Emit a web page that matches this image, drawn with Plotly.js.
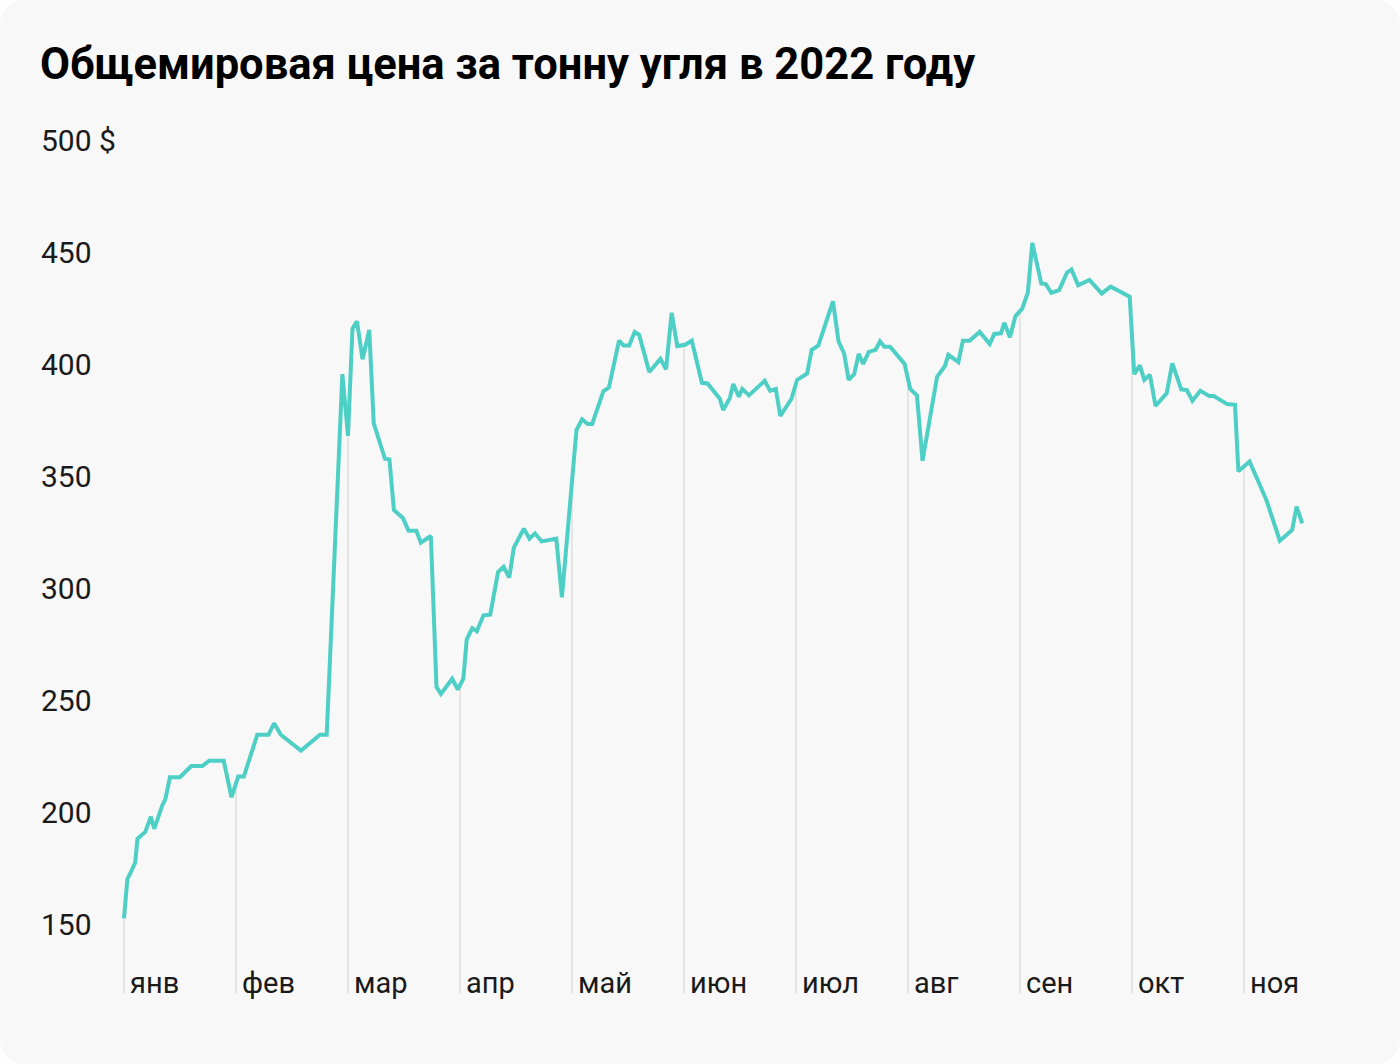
<!DOCTYPE html>
<html>
<head>
<meta charset="utf-8">
<script src="https://cdn.plot.ly/plotly-3.0.1.min.js"></script>
<style>
  html, body { margin: 0; padding: 0; background: #ffffff; }
  #chart { width: 1400px; height: 1064px; background: #f8f8f8; border-radius: 24px; overflow: hidden; }
</style>
</head>
<body>
<div id="chart"></div>
<script>
// позиция по оси x: номер месяца (0 = начало января), значение: $ за тонну
const months = ['янв', 'фев', 'мар', 'апр', 'май', 'июн', 'июл', 'авг', 'сен', 'окт', 'ноя'];

const pos = [
  0.00, 0.03, 0.07, 0.10, 0.12, 0.16, 0.19, 0.24, 0.27, 0.34, 0.37, 0.41, 0.50, 0.60, 0.70, 0.76, 0.89, 0.96,
  1.02, 1.07, 1.19, 1.29, 1.34, 1.40, 1.58, 1.75, 1.81, 1.95,
  2.00, 2.04, 2.08, 2.13, 2.19, 2.23, 2.33, 2.37, 2.41, 2.49, 2.54, 2.61, 2.65, 2.74, 2.79, 2.83, 2.93, 2.98,
  3.03, 3.06, 3.11, 3.15, 3.21, 3.27, 3.34, 3.39, 3.44, 3.48, 3.57, 3.62, 3.67, 3.73, 3.86, 3.91,
  4.04, 4.09, 4.14, 4.18, 4.28, 4.33, 4.42, 4.46, 4.51, 4.56, 4.60, 4.69, 4.79, 4.84, 4.89, 4.94,
  5.01, 5.07, 5.16, 5.21, 5.32, 5.35, 5.41, 5.44, 5.49, 5.52, 5.58, 5.72, 5.77, 5.82, 5.86, 5.96,
  6.01, 6.10, 6.14, 6.20, 6.33, 6.38, 6.43, 6.47, 6.52, 6.56, 6.60, 6.65, 6.71, 6.75, 6.79, 6.84, 6.97,
  7.02, 7.08, 7.13, 7.26, 7.33, 7.36, 7.45, 7.49, 7.55, 7.64, 7.73, 7.77, 7.83, 7.86, 7.91, 7.96,
  8.02, 8.07, 8.11, 8.19, 8.23, 8.28, 8.35, 8.42, 8.46, 8.52, 8.62, 8.73, 8.81, 8.98,
  9.02, 9.07, 9.11, 9.16, 9.21, 9.31, 9.36, 9.44, 9.49, 9.54, 9.61, 9.69, 9.73, 9.85, 9.92, 9.95,
  10.05, 10.20, 10.32, 10.43, 10.47, 10.52
];

const price = [
  152.5, 170.0, 174.1, 177.4, 188.1, 189.6, 191.1, 197.9, 192.5, 202.7, 205.9, 215.5, 215.5, 220.5, 220.5, 222.9, 222.9, 206.6,
  215.8, 215.8, 234.5, 234.5, 239.6, 234.5, 227.4, 234.5, 234.5, 395.5,
  367.9, 415.8, 419.1, 402.1, 415.2, 373.5, 357.7, 357.4, 334.8, 331.3, 325.6, 325.6, 320.2, 323.2, 255.9, 252.7, 259.5, 254.7,
  259.5, 277.1, 282.1, 280.7, 287.8, 288.1, 307.1, 309.5, 304.7, 317.9, 326.5, 322.0, 324.4, 320.8, 322.0, 295.8,
  370.5, 375.3, 373.2, 373.2, 387.8, 389.6, 410.4, 408.3, 408.3, 414.3, 413.0, 396.4, 402.3, 397.6, 422.9, 408.0,
  408.6, 410.4, 391.6, 391.3, 384.5, 379.5, 384.8, 391.1, 385.4, 388.9, 386.0, 392.5, 388.0, 388.9, 376.8, 384.5,
  392.9, 395.8, 406.3, 408.3, 428.0, 410.1, 404.7, 392.9, 395.5, 404.5, 400.0, 405.4, 406.3, 410.1, 407.7, 407.7, 400.0,
  388.9, 386.0, 356.8, 394.3, 399.1, 404.1, 400.9, 410.4, 410.4, 414.3, 408.9, 413.4, 413.7, 418.4, 411.9, 421.4,
  424.7, 431.8, 454.1, 436.0, 435.7, 431.8, 433.0, 440.8, 442.2, 435.1, 437.5, 431.5, 434.5, 430.0,
  395.5, 399.4, 392.9, 395.2, 381.3, 386.9, 400.3, 388.7, 388.4, 383.6, 388.0, 385.7, 385.7, 382.1, 381.8, 352.1,
  356.5, 339.3, 321.1, 325.9, 336.3, 328.8
];

const yTicks = [150, 200, 250, 300, 350, 400, 450, 500];
const yTickText = ['150', '200', '250', '300', '350', '400', '450', '500 $'];

const yRange = [116.07, 517.86];
const xRange = [-0.7857, 11.036];
const gridBottom = 119.2;   // линии месяцев спускаются чуть ниже оси, до подписей

// значение линии в точке начала месяца — до него поднимается вертикальная линия сетки
function valueAt(m) {
  for (let i = 1; i < pos.length; i++) {
    if (pos[i] >= m) {
      const t = (m - pos[i - 1]) / (pos[i] - pos[i - 1]);
      return price[i - 1] + t * (price[i] - price[i - 1]);
    }
  }
  return price[price.length - 1];
}

const gridX = [];
const gridY = [];
months.forEach((name, i) => {
  gridX.push(i, i, null);
  gridY.push(i === 0 ? price[0] : valueAt(i), gridBottom, null);
});

const traces = [
  {
    x: gridX,
    y: gridY,
    mode: 'lines',
    line: { color: '#dedede', width: 1.5 },
    hoverinfo: 'skip',
    showlegend: false
  },
  {
    x: pos,
    y: price,
    mode: 'lines',
    line: { color: '#4ecfc5', width: 4, shape: 'linear' },
    hovertemplate: '%{y:.0f} $<extra></extra>',
    showlegend: false
  }
];

const layout = {
  width: 1400,
  height: 1064,
  paper_bgcolor: 'rgba(0,0,0,0)',
  plot_bgcolor: 'rgba(0,0,0,0)',
  margin: { l: 36, r: 40, t: 100, b: 64 },
  font: { family: 'Roboto, Inter, sans-serif', color: '#1a1a1a' },
  title: {
    text: '<b>Общемировая цена за тонну угля в 2022 году</b>',
    font: { size: 43.5, color: '#000000', family: 'Roboto, Inter, sans-serif' },
    x: 40 / 1400,
    xanchor: 'left',
    xref: 'container',
    y: 1 - 64 / 1064,
    yanchor: 'middle',
    yref: 'container'
  },
  xaxis: {
    range: xRange,
    tickvals: months.map((m, i) => i),
    ticktext: months,
    ticklabelposition: 'inside right',
    ticklabelshift: 6,
    ticklabelstandoff: -5,
    showgrid: false,
    zeroline: false,
    showline: false,
    ticks: '',
    tickfont: { size: 29, color: '#1a1a1a' },
    fixedrange: true
  },
  yaxis: {
    range: yRange,
    tickvals: yTicks,
    ticktext: yTickText,
    ticklabelposition: 'inside',
    ticklabelstandoff: 2,
    showgrid: false,
    zeroline: false,
    showline: false,
    ticks: '',
    tickfont: { size: 30, color: '#1a1a1a' },
    fixedrange: true
  },
  hovermode: 'closest'
};

Plotly.newPlot('chart', traces, layout, { displayModeBar: false });
</script>
</body>
</html>
